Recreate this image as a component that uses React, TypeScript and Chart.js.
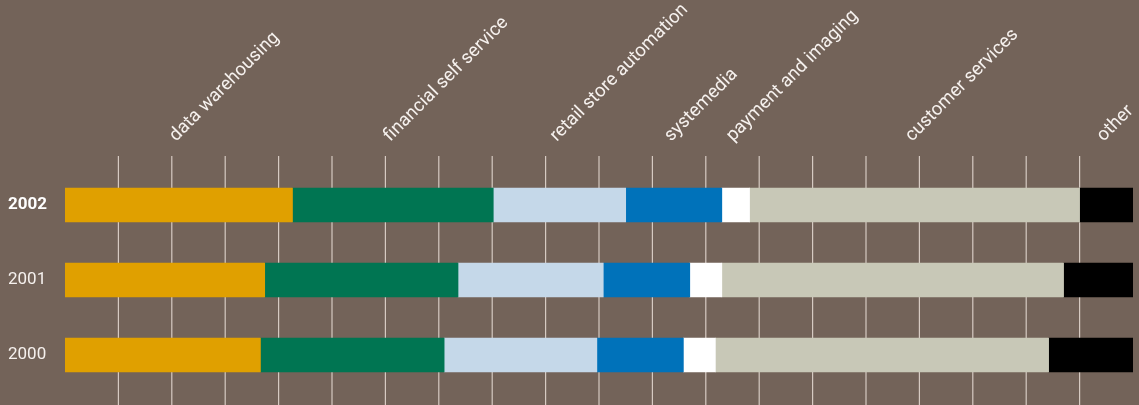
import React, { useEffect, useRef } from "react";
import { Chart, registerables } from "chart.js";

Chart.register(...registerables);

const years = ["2002", "2001", "2000"];
const segments = [
  "data warehousing",
  "financial self service",
  "retail store automation",
  "systemedia",
  "payment and imaging",
  "customer services",
  "other",
];
const dataWarehousing = [21.3, 18.7, 18.3];
const financialSelfService = [18.8, 18.1, 17.2];
const retailStoreAutomation = [12.4, 13.6, 14.3];
const systemedia = [9.0, 8.1, 8.1];
const paymentAndImaging = [2.6, 3.0, 3.0];
const customerServices = [30.9, 32.0, 31.2];
const other = [5.0, 6.5, 7.9];
const seriesValues = [
  dataWarehousing,
  financialSelfService,
  retailStoreAutomation,
  systemedia,
  paymentAndImaging,
  customerServices,
  other,
];
const segmentColors = ["#E0A000", "#007552", "#C5D8E9", "#0072BA", "#FFFFFF", "#C8C8B7", "#000000"];
const gridTicks = [5, 10, 15, 20, 25, 30, 35, 40, 45, 50, 55, 60, 65, 70, 75, 80, 85, 90, 95];

const BG = "#736359";
const FONT = "Roboto, 'Noto Sans', sans-serif";

const extrasPlugin = {
  id: "extras",
  beforeDatasetsDraw(chart: any) {
    const { ctx, chartArea, scales } = chart;
    const xs = scales.x;
    ctx.save();
    ctx.strokeStyle = "#d6cac2";
    ctx.lineWidth = 1.2;
    for (const v of gridTicks) {
      const px = xs.getPixelForValue(v);
      ctx.beginPath();
      ctx.moveTo(px, chartArea.top - 11.5);
      ctx.lineTo(px, chartArea.bottom + 12.5);
      ctx.stroke();
    }
    ctx.restore();
  },
  afterDatasetsDraw(chart: any) {
    const { ctx, chartArea } = chart;
    ctx.save();
    ctx.fillStyle = "#f6f1ee";
    ctx.font = `18.5px ${FONT}`;
    ctx.textAlign = "left";
    ctx.textBaseline = "alphabetic";
    chart.data.datasets.forEach((ds: any, i: number) => {
      const meta = chart.getDatasetMeta(i);
      const el: any = meta.data[0];
      if (!el) return;
      const props = el.getProps(["x", "base"], true);
      const cx = (props.x + props.base) / 2;
      ctx.save();
      ctx.translate(cx - 2.7, chartArea.top - 25.5);
      ctx.rotate(-Math.PI / 4);
      ctx.fillText(ds.label, 0, 0);
      ctx.restore();
    });
    ctx.restore();
  },
};

export default function App() {
  const ref = useRef<HTMLCanvasElement | null>(null);

  useEffect(() => {
    if (!ref.current) return;
    const chart = new Chart(ref.current, {
      type: "bar",
      data: {
        labels: years,
        datasets: segments.map((name, i) => ({
          label: name,
          data: seriesValues[i],
          backgroundColor: segmentColors[i],
          borderWidth: 0,
          barThickness: 34,
        })),
      },
      options: {
        indexAxis: "y",
        animation: false,
        responsive: true,
        maintainAspectRatio: false,
        layout: { padding: { left: 8, right: 6, top: 167.5, bottom: 12.5 } },
        plugins: {
          legend: { display: false },
          tooltip: { enabled: false },
        },
        scales: {
          x: {
            stacked: true,
            min: 0,
            max: 100,
            display: false,
          },
          y: {
            stacked: true,
            grid: { display: false },
            border: { display: false },
            afterFit(scale: any) {
              scale.width = 57;
            },
            ticks: {
              crossAlign: "far",
              padding: 0,
              color: (c: any) => (c.index === 0 ? "#ffffff" : "#f6f1ee"),
              font: (c: any) => ({
                family: FONT,
                size: 17,
                weight: c.index === 0 ? "bold" : "normal",
              }),
            },
          },
        },
      },
      plugins: [extrasPlugin],
    } as any);
    return () => chart.destroy();
  }, []);

  return (
    <div
      style={{
        position: "absolute",
        left: 0,
        top: 0,
        width: 1139,
        height: 405,
        background: BG,
      }}
    >
      <canvas ref={ref} />
    </div>
  );
}
